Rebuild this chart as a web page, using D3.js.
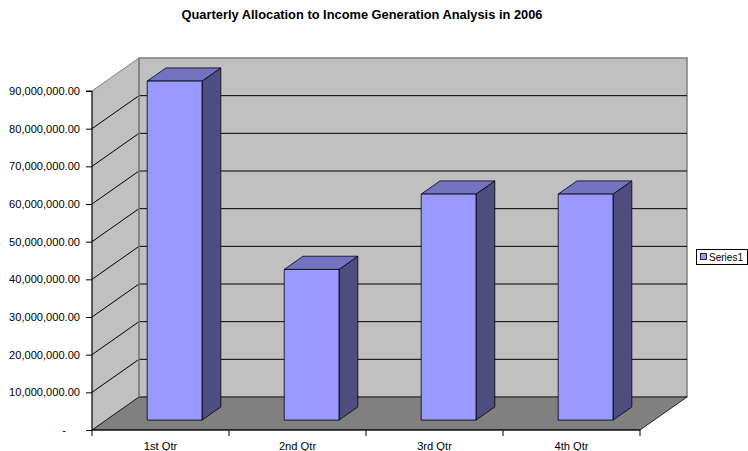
<!DOCTYPE html>
<html>
<head>
<meta charset="utf-8">
<script src="https://cdn.jsdelivr.net/npm/d3@7"></script>
<style>
  html, body { margin: 0; padding: 0; background: #ffffff; }
  svg { display: block; }
  svg text { font-family: Arial, "Liberation Sans", Helvetica, sans-serif; }
</style>
</head>
<body>
<svg id="chart" width="748" height="451"></svg>
<script>
// Quarterly allocation figures
const quarters = ["1st Qtr", "2nd Qtr", "3rd Qtr", "4th Qtr"];
const series1 = [90000000, 40000000, 60000000, 60000000];
const seriesName = "Series1";
const yTicks = [0, 10000000, 20000000, 30000000, 40000000, 50000000, 60000000, 70000000, 80000000, 90000000];
const chartTitle = "Quarterly Allocation to Income Generation Analysis in 2006";

const svg = d3.select("#chart");

// Front plane of the 3-D box
const plotLeft = 92, plotRight = 640, plotBottom = 430, plotTop = 91;
// Depth offset of the back wall
const depthX = 47, depthY = -33;
// Bars occupy the middle of the depth
const barD0 = 0.3, barD1 = 0.7;

const x = d3.scaleBand().domain(quarters).range([plotLeft, plotRight]).paddingInner(0.6).paddingOuter(0.3);
const y = d3.scaleLinear().domain([0, 90000000]).range([plotBottom, plotTop]);

const P = (px, py, d) => [px + d * depthX, py + d * depthY];
const poly = pts => pts.map(p => p.join(",")).join(" ");

// Scale a text selection's font size so that its reference node spans the given width
function fitFont(sel, refNode, width) {
  const w = refNode.getComputedTextLength();
  const fs = parseFloat(d3.select(refNode).attr("font-size"));
  if (w > 0) sel.attr("font-size", (fs * width / w).toFixed(2) + "px");
}

// Side wall
svg.append("polygon")
  .attr("points", poly([P(plotLeft, plotBottom, 0), P(plotLeft, plotTop, 0), P(plotLeft, plotTop, 1), P(plotLeft, plotBottom, 1)]))
  .attr("fill", "#c0c0c0").attr("stroke", "#808080").attr("stroke-width", 1);

// Back wall
svg.append("polygon")
  .attr("points", poly([P(plotLeft, plotBottom, 1), P(plotLeft, plotTop, 1), P(plotRight, plotTop, 1), P(plotRight, plotBottom, 1)]))
  .attr("fill", "#c0c0c0").attr("stroke", "#808080").attr("stroke-width", 1.5);

// Floor
svg.append("polygon")
  .attr("points", poly([P(plotLeft, plotBottom, 0), P(plotRight, plotBottom, 0), P(plotRight, plotBottom, 1), P(plotLeft, plotBottom, 1)]))
  .attr("fill", "#808080").attr("stroke", "#000000").attr("stroke-width", 0.8);

// Gridlines on side and back walls
const grid = svg.append("g");
yTicks.filter(v => v > 0 && v < 90000000).forEach(v => {
  const a = P(plotLeft, y(v), 0), b = P(plotLeft, y(v), 1), c = P(plotRight, y(v), 1);
  grid.append("polyline")
    .attr("points", poly([a, b, c]))
    .attr("fill", "none").attr("stroke", "#000000").attr("stroke-width", 1);
});

// Back wall left edge drawn over gridlines
svg.append("line")
  .attr("x1", plotLeft + depthX).attr("y1", plotTop + depthY)
  .attr("x2", plotLeft + depthX).attr("y2", plotBottom + depthY)
  .attr("stroke", "#808080").attr("stroke-width", 1.5);

// Bars
const bars = svg.append("g");
quarters.forEach((q, i) => {
  const v = series1[i];
  const x0 = x(q), x1 = x(q) + x.bandwidth();
  const yt = y(v), yb = y(0);
  const g = bars.append("g");
  // right side face
  g.append("polygon")
    .attr("points", poly([P(x1, yb, barD0), P(x1, yt, barD0), P(x1, yt, barD1), P(x1, yb, barD1)]))
    .attr("fill", "#4d4d80").attr("stroke", "#000").attr("stroke-width", 0.8).attr("stroke-linejoin", "round");
  // top face
  g.append("polygon")
    .attr("points", poly([P(x0, yt, barD0), P(x1, yt, barD0), P(x1, yt, barD1), P(x0, yt, barD1)]))
    .attr("fill", "#7373bf").attr("stroke", "#000").attr("stroke-width", 0.8).attr("stroke-linejoin", "round");
  // front face
  g.append("polygon")
    .attr("points", poly([P(x0, yb, barD0), P(x0, yt, barD0), P(x1, yt, barD0), P(x1, yb, barD0)]))
    .attr("fill", "#9999ff").attr("stroke", "#000").attr("stroke-width", 0.8).attr("stroke-linejoin", "round");
});

// Value axis
const fmt = v => v === 0 ? "-" : d3.format(",.2f")(v);
const yAxis = svg.append("g")
  .attr("transform", `translate(${plotLeft},0)`)
  .call(d3.axisLeft(y).tickValues(yTicks).tickFormat(fmt).tickSize(6).tickPadding(6));
yAxis.attr("font-family", null);
yAxis.select(".domain").attr("stroke", "#000").attr("d", `M-6,${plotTop}H0V${plotBottom}`);
yAxis.selectAll(".tick line").attr("stroke", "#000");
const yLabels = yAxis.selectAll(".tick text").attr("font-size", "10px").attr("fill", "#000");
fitFont(yLabels, yAxis.selectAll(".tick").filter(d => d === 90000000).select("text").node(), 71);
yAxis.selectAll(".tick").filter(d => d === 0).select("text").attr("dx", "-14");

// Category axis
const xTickPos = d3.range(quarters.length + 1).map(i => plotLeft + i * x.step());
const xAxis = svg.append("g");
xAxis.append("line").attr("x1", plotLeft).attr("x2", plotRight).attr("y1", plotBottom).attr("y2", plotBottom)
  .attr("stroke", "#000").attr("stroke-width", 1);
xTickPos.forEach(px => {
  xAxis.append("line").attr("x1", px).attr("x2", px).attr("y1", plotBottom).attr("y2", plotBottom + 6)
    .attr("stroke", "#000").attr("stroke-width", 1);
});
const xLabels = xAxis.selectAll("text.cat").data(quarters).join("text")
  .attr("class", "cat")
  .attr("x", q => x(q) + x.bandwidth() / 2).attr("y", plotBottom + 19.5)
  .attr("text-anchor", "middle").attr("font-size", "10px").attr("fill", "#000")
  .text(q => q);
fitFont(xLabels, xLabels.node(), 33.5);

// Title
const titleText = svg.append("text")
  .attr("x", 362).attr("y", 19)
  .attr("text-anchor", "middle").attr("font-size", "12.8px").attr("font-weight", "bold")
  .attr("fill", "#000")
  .text(chartTitle);
fitFont(titleText, titleText.node(), 361);

// Legend
const legend = svg.append("g");
legend.append("rect").attr("x", 696.5).attr("y", 249.5).attr("width", 51).attr("height", 15)
  .attr("fill", "#fff").attr("stroke", "#000").attr("stroke-width", 1);
legend.append("rect").attr("x", 700.5).attr("y", 253.5).attr("width", 6).attr("height", 6)
  .attr("fill", "#9999ff").attr("stroke", "#000").attr("stroke-width", 0.8);
const legendText = legend.append("text").attr("x", 709).attr("y", 260.5)
  .attr("font-size", "10px").attr("fill", "#000").text(seriesName);
fitFont(legendText, legendText.node(), 34);
</script>
</body>
</html>
